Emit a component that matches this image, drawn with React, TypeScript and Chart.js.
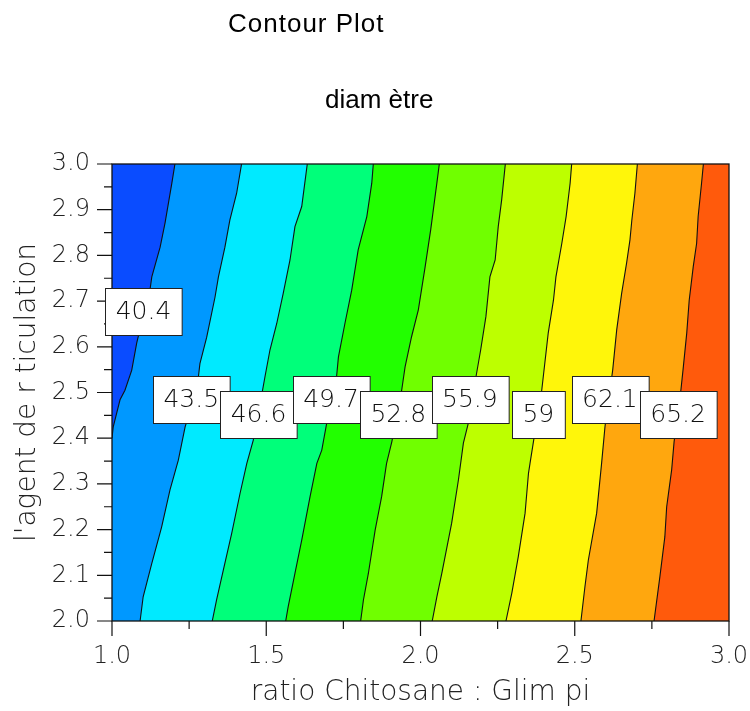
import React, { useEffect, useRef } from 'react';
import { Chart, registerables } from 'chart.js';

Chart.register(...registerables);

// ---- data ----
const xMin = 1.0;
const xMax = 3.0;
const yMin = 2.0;
const yMax = 3.0;

const levels = [40.4, 43.5, 46.6, 49.7, 52.8, 55.9, 59, 62.1, 65.2];

const bandColors = [
  '#0a4cff', '#0098ff', '#00eaff', '#00ff7a', '#22ff00',
  '#70ff00', '#bdff00', '#fff60a', '#ffa70e', '#ff5a0c',
];

// contour lines, bottom to top, [x, y]
const contour404 = [[1.0, 2.40], [1.004, 2.425], [1.026, 2.484], [1.042, 2.505], [1.064, 2.549], [1.080, 2.608], [1.102, 2.67], [1.123, 2.724], [1.129, 2.753], [1.156, 2.818], [1.172, 2.871], [1.194, 2.958], [1.204, 3.0]];
const contour435 = [[1.091, 2.0], [1.101, 2.053], [1.129, 2.126], [1.161, 2.206], [1.188, 2.287], [1.215, 2.352], [1.237, 2.425], [1.258, 2.47], [1.275, 2.505], [1.285, 2.563], [1.307, 2.621], [1.334, 2.709], [1.345, 2.753], [1.366, 2.818], [1.382, 2.877], [1.404, 2.936], [1.420, 3.0]];
const contour466 = [[1.325, 2.0], [1.339, 2.046], [1.361, 2.112], [1.388, 2.192], [1.415, 2.279], [1.437, 2.345], [1.458, 2.396], [1.476, 2.46], [1.496, 2.535], [1.512, 2.593], [1.534, 2.651], [1.555, 2.717], [1.577, 2.790], [1.593, 2.863], [1.615, 2.907], [1.633, 3.0]];
const contour497 = [[1.563, 2.0], [1.571, 2.031], [1.593, 2.104], [1.615, 2.177], [1.642, 2.272], [1.664, 2.345], [1.680, 2.374], [1.696, 2.433], [1.712, 2.49], [1.728, 2.535], [1.734, 2.578], [1.755, 2.651], [1.777, 2.724], [1.798, 2.812], [1.826, 2.885], [1.842, 2.958], [1.847, 3.0]];
const contour528 = [[1.806, 2.0], [1.815, 2.046], [1.831, 2.104], [1.853, 2.199], [1.874, 2.272], [1.890, 2.345], [1.907, 2.392], [1.924, 2.45], [1.939, 2.505], [1.950, 2.556], [1.971, 2.622], [1.993, 2.681], [2.015, 2.775], [2.033, 2.856], [2.053, 2.958], [2.061, 3.0]];
const contour559 = [[2.038, 2.0], [2.053, 2.053], [2.069, 2.104], [2.101, 2.214], [2.123, 2.309], [2.139, 2.389], [2.155, 2.433], [2.168, 2.49], [2.180, 2.535], [2.195, 2.593], [2.212, 2.666], [2.225, 2.753], [2.242, 2.790], [2.252, 2.863], [2.263, 2.921], [2.275, 3.0]];
const contour590 = [[2.277, 2.0], [2.296, 2.061], [2.317, 2.141], [2.339, 2.236], [2.350, 2.323], [2.355, 2.345], [2.366, 2.392], [2.380, 2.45], [2.393, 2.505], [2.414, 2.630], [2.431, 2.702], [2.439, 2.753], [2.458, 2.826], [2.472, 2.885], [2.485, 2.958], [2.490, 3.0]];
const contour621 = [[2.520, 2.0], [2.533, 2.075], [2.544, 2.133], [2.571, 2.236], [2.587, 2.345], [2.598, 2.425], [2.606, 2.47], [2.614, 2.505], [2.623, 2.549], [2.636, 2.637], [2.652, 2.717], [2.668, 2.783], [2.679, 2.834], [2.685, 2.877], [2.695, 2.936], [2.703, 3.0]];
const contour652 = [[2.757, 2.0], [2.776, 2.097], [2.792, 2.184], [2.798, 2.250], [2.814, 2.330], [2.822, 2.392], [2.833, 2.45], [2.844, 2.505], [2.852, 2.556], [2.863, 2.630], [2.871, 2.702], [2.884, 2.775], [2.895, 2.826], [2.900, 2.885], [2.911, 2.958], [2.917, 3.0]];

const contours = [contour404, contour435, contour466, contour497, contour528, contour559, contour590, contour621, contour652];

// label anchors (data coords) for each level
const labelAnchors = [[1.102, 2.677], [1.257, 2.484], [1.475, 2.451], [1.710, 2.484], [1.928, 2.451], [2.160, 2.484], [2.382, 2.451], [2.614, 2.484], [2.835, 2.451]];

const xTickLabels = ['1.0', '1.5', '2.0', '2.5', '3.0'];
const yTickLabels = ['2.0', '2.1', '2.2', '2.3', '2.4', '2.5', '2.6', '2.7', '2.8', '2.9', '3.0'];

const chartTitle = 'Contour Plot';
const chartSubtitle = 'diam ètre';
const xTitle = 'ratio Chitosane : Glim pi';
const yTitle = "l'agent de r ticulation";

// ---- helpers ----
const TICK_FONT = '"DejaVu Sans", sans-serif';
const isMultiple = (v: number, step: number) => Math.abs(v / step - Math.round(v / step)) < 1e-6;

function toPts(arr: number[][]) {
  return arr.map(([x, y]) => ({ x, y }));
}

function bandPolygon(arr: number[][]) {
  const pts = toPts(arr);
  if (pts[0].x <= xMin && pts[0].y > yMin) pts.unshift({ x: xMin, y: yMin });
  pts.push({ x: xMax, y: yMax }, { x: xMax, y: yMin });
  return pts;
}

const titlesPlugin = {
  id: 'titles',
  afterDraw(chart: any) {
    const ctx = chart.ctx;
    ctx.save();
    ctx.fillStyle = '#000';
    ctx.textBaseline = 'alphabetic';
    ctx.textAlign = 'left';
    ctx.font = '26px "Liberation Sans", Arial, sans-serif';
    (ctx as any).letterSpacing = '1px';
    ctx.fillText(chartTitle, 228, 32);
    (ctx as any).letterSpacing = '0px';
    ctx.fillText(chartSubtitle, 325, 108);
    ctx.restore();
  },
};

const framePlugin = {
  id: 'frame',
  afterDatasetsDraw(chart: any) {
    const { ctx, chartArea: a, scales } = chart;
    const xs = scales.x;
    const ys = scales.y;
    ctx.save();
    ctx.strokeStyle = '#111';
    ctx.lineWidth = 1.3;
    ctx.strokeRect(a.left, a.top, a.right - a.left, a.bottom - a.top);
    ctx.lineWidth = 1.2;
    ctx.beginPath();
    xs.ticks.forEach((t: any) => {
      const px = xs.getPixelForValue(t.value);
      const len = isMultiple(t.value, 0.5) ? 15 : 8;
      ctx.moveTo(px, a.bottom);
      ctx.lineTo(px, a.bottom + len);
    });
    ys.ticks.forEach((t: any) => {
      const py = ys.getPixelForValue(t.value);
      const len = isMultiple(t.value, 0.1) ? 15 : 8;
      ctx.moveTo(a.left - len, py);
      ctx.lineTo(a.left, py);
    });
    ctx.stroke();
    ctx.restore();
  },
};

const labelPlugin = {
  id: 'contourLabels',
  afterDraw(chart: any) {
    const { ctx, scales } = chart;
    ctx.save();
    ctx.font = `200 25px ${TICK_FONT}`;
    ctx.textAlign = 'center';
    ctx.textBaseline = 'middle';
    levels.forEach((lv, i) => {
      const [lx, ly] = labelAnchors[i];
      const cx = scales.x.getPixelForValue(lx);
      const cy = scales.y.getPixelForValue(ly);
      const text = String(lv);
      const w = ctx.measureText(text).width + 21;
      const h = 47;
      const x0 = Math.round(cx - w / 2) + 0.5;
      const y0 = Math.round(cy - h / 2) + 0.5;
      ctx.fillStyle = '#fff';
      ctx.fillRect(x0, y0, w, h);
      ctx.strokeStyle = '#222';
      ctx.lineWidth = 1;
      ctx.strokeRect(x0, y0, w, h);
      ctx.fillStyle = '#111';
      ctx.fillText(text, cx, cy + 1);
    });
    ctx.restore();
  },
};

export default function App() {
  const ref = useRef<HTMLCanvasElement | null>(null);

  useEffect(() => {
    if (!ref.current) return;
    const prevMargin = document.body.style.margin;
    document.body.style.margin = '0';
    const datasets: any[] = [];
    // base band (full area)
    datasets.push({
      data: [{ x: xMin, y: yMin }, { x: xMin, y: yMax }, { x: xMax, y: yMax }, { x: xMax, y: yMin }],
      backgroundColor: bandColors[0],
      borderWidth: 0,
      fill: 'shape',
      pointRadius: 0,
      order: 100,
    });
    contours.forEach((c, i) => {
      datasets.push({
        data: bandPolygon(c),
        backgroundColor: bandColors[i + 1],
        borderColor: bandColors[i + 1],
        borderWidth: 0,
        fill: 'shape',
        pointRadius: 0,
        order: 99 - i,
      });
    });
    contours.forEach((c) => {
      datasets.push({
        data: toPts(c),
        borderColor: '#111',
        borderWidth: 1.1,
        fill: false,
        pointRadius: 0,
        order: -10,
      });
    });

    const chart = new Chart(ref.current, {
      type: 'line',
      data: { datasets },
      plugins: [framePlugin, labelPlugin, titlesPlugin],
      options: {
        animation: false,
        responsive: true,
        maintainAspectRatio: false,
        events: [],
        layout: { padding: { top: 164, right: 21, left: 0, bottom: 0 } },
        elements: { line: { tension: 0 } },
        plugins: {
          legend: { display: false },
          tooltip: { enabled: false },
          title: { display: false },
        },
        scales: {
          x: {
            type: 'linear',
            min: xMin,
            max: xMax,
            position: 'bottom',
            afterFit: (s: any) => { s.height = 90; s.paddingLeft = 0; s.paddingRight = 0; },
            grid: { display: false, drawTicks: false },
            border: { display: false },
            ticks: {
              stepSize: 0.25,
              autoSkip: false,
              maxRotation: 0,
              padding: 21,
              color: '#222',
              font: { family: TICK_FONT, size: 24, weight: '200' as any },
              callback: (v: any) => {
                const s = Number(v).toFixed(1);
                return isMultiple(Number(v), 0.5) && xTickLabels.includes(s) ? s : '';
              },
            },
            title: {
              display: true,
              text: xTitle,
              color: '#222',
              font: { family: TICK_FONT, size: 28, weight: '200' as any, lineHeight: 0.8 },
              padding: { top: 0, bottom: 7 },
            },
          },
          y: {
            type: 'linear',
            min: yMin,
            max: yMax,
            position: 'left',
            afterFit: (s: any) => { s.width = 112; s.paddingTop = 0; s.paddingBottom = 0; },
            grid: { display: false, drawTicks: false },
            border: { display: false },
            ticks: {
              stepSize: 0.05,
              autoSkip: false,
              padding: 22,
              color: '#222',
              font: { family: TICK_FONT, size: 24, weight: '200' as any },
              callback: (v: any) => {
                const s = Number(v).toFixed(1);
                return isMultiple(Number(v), 0.1) && yTickLabels.includes(s) ? s : '';
              },
            },
            title: {
              display: true,
              text: yTitle,
              color: '#222',
              font: { family: TICK_FONT, size: 28, weight: '200' as any, lineHeight: 0.8 },
              padding: { top: 17, bottom: 0 },
            },
          },
        },
      },
    });
    return () => {
      chart.destroy();
      document.body.style.margin = prevMargin;
    };
  }, []);

  return (
    <div style={{ position: 'relative', width: 750, height: 711 }}>
      <canvas ref={ref} />
    </div>
  );
}
